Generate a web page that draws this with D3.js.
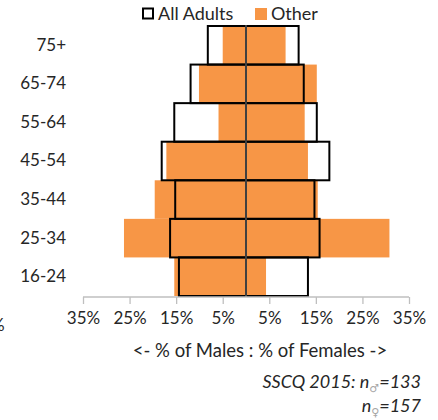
<!DOCTYPE html>
<html><head><meta charset="utf-8">
<script src="https://cdn.jsdelivr.net/npm/d3@7/dist/d3.min.js"></script>
<style>
body{margin:0;background:#fff;}
svg{display:block;font-family:Lato, "Open Sans", sans-serif;}
</style></head>
<body><svg id="c" width="438" height="420"></svg>
<script>
const categories = ["75+","65-74","55-64","45-54","35-44","25-34","16-24"];
const maleAll     = [8.2, 11.9, 15.4, 18.1, 15.2, 16.3, 14.4];
const maleOther   = [5.0, 10.1, 5.9, 17.1, 19.6, 26.2, 15.4];
const femaleAll   = [11.3, 12.4, 15.2, 17.9, 14.7, 15.8, 13.3];
const femaleOther = [8.5, 15.2, 12.6, 13.3, 15.4, 30.8, 4.3];
const tickValues  = [-35,-25,-15,-5,5,15,25,35];
const legendLabels = ["All Adults","Other"];

const svg = d3.select("#c");
const x = d3.scaleLinear().domain([-35,35]).range([83,409]);
const y = d3.scaleBand().domain(categories).range([26,296]).padding(0);
const orange = "#F79646";

// Other bars
const g = svg.append("g");
categories.forEach((c,i)=>{
  g.append("rect").attr("x",x(-maleOther[i])).attr("y",y(c))
    .attr("width",x(0)-x(-maleOther[i])).attr("height",y.bandwidth()).attr("fill",orange);
  g.append("rect").attr("x",x(0)).attr("y",y(c))
    .attr("width",x(femaleOther[i])-x(0)).attr("height",y.bandwidth()).attr("fill",orange);
});
// All adults outlines
categories.forEach((c,i)=>{
  g.append("rect").attr("x",x(-maleAll[i])).attr("y",y(c))
    .attr("width",x(0)-x(-maleAll[i])).attr("height",y.bandwidth())
    .attr("fill","none").attr("stroke","#000").attr("stroke-width",2);
  g.append("rect").attr("x",x(0)).attr("y",y(c))
    .attr("width",x(femaleAll[i])-x(0)).attr("height",y.bandwidth())
    .attr("fill","none").attr("stroke","#000").attr("stroke-width",2);
});
// zero line
svg.append("line").attr("x1",x(0)).attr("x2",x(0)).attr("y1",25).attr("y2",297)
  .attr("stroke","#404040").attr("stroke-width",2);

// x axis
const xAxis = d3.axisBottom(x).tickValues(tickValues).tickSize(7).tickPadding(8)
  .tickFormat(d=>Math.abs(d)+"%");
const ax = svg.append("g").attr("transform","translate(0,297)").call(xAxis);
ax.select(".domain").attr("stroke","#bfbfbf").attr("stroke-width",1.3).attr("d","M83,0H409");
ax.selectAll(".tick line").attr("stroke","#bfbfbf").attr("stroke-width",1.3);
ax.selectAll(".tick text").attr("fill","#262626").style("font-size","17px").style("font-family","Lato");

// y labels
const yAxis = d3.axisLeft(y).tickSize(0).tickPadding(0);
const ay = svg.append("g").attr("transform","translate(66,0)").call(yAxis);
ay.select(".domain").remove();
ay.selectAll(".tick text").attr("fill","#262626").style("font-size","17px").style("font-family","Lato");

// axis title
svg.append("text").attr("x",260).attr("y",357).attr("text-anchor","middle")
  .attr("fill","#262626").style("font-size","18.5px").text("<- % of Males : % of Females ->");

// legend
svg.append("rect").attr("x",143).attr("y",8.5).attr("width",10).attr("height",10)
  .attr("fill","#fff").attr("stroke","#000").attr("stroke-width",2);
svg.append("text").attr("x",158).attr("y",20).attr("fill","#262626").style("font-size","18px").text(legendLabels[0]);
svg.append("rect").attr("x",255).attr("y",8).attr("width",12).attr("height",12).attr("fill",orange);
svg.append("text").attr("x",271).attr("y",20).attr("fill","#262626").style("font-size","18px").text(legendLabels[1]);

// footnote
const f1 = svg.append("text").attr("x",421).attr("y",388).attr("text-anchor","end")
  .attr("fill","#262626").style("font-size","18px").style("font-style","italic");
f1.append("tspan").text("SSCQ 2015: n");
f1.append("tspan").attr("dy",4).attr("fill","#a6a6a6").style("font-size","11px")
  .style("font-family","'DejaVu Sans'").style("font-style","normal").text("\u2642");
f1.append("tspan").attr("dy",-4).text("=133");
const f2 = svg.append("text").attr("x",421).attr("y",412).attr("text-anchor","end")
  .attr("fill","#262626").style("font-size","18px").style("font-style","italic");
f2.append("tspan").text("n");
f2.append("tspan").attr("dy",4).attr("fill","#a6a6a6").style("font-size","11px")
  .style("font-family","'DejaVu Sans'").style("font-style","normal").text("\u2640");
f2.append("tspan").attr("dy",-4).text("=157");

// clipped fragment at left edge (cut off in the original too)
svg.append("text").attr("x",-9).attr("y",331).attr("fill","#262626").style("font-size","17px").text("%");
</script></body></html>
